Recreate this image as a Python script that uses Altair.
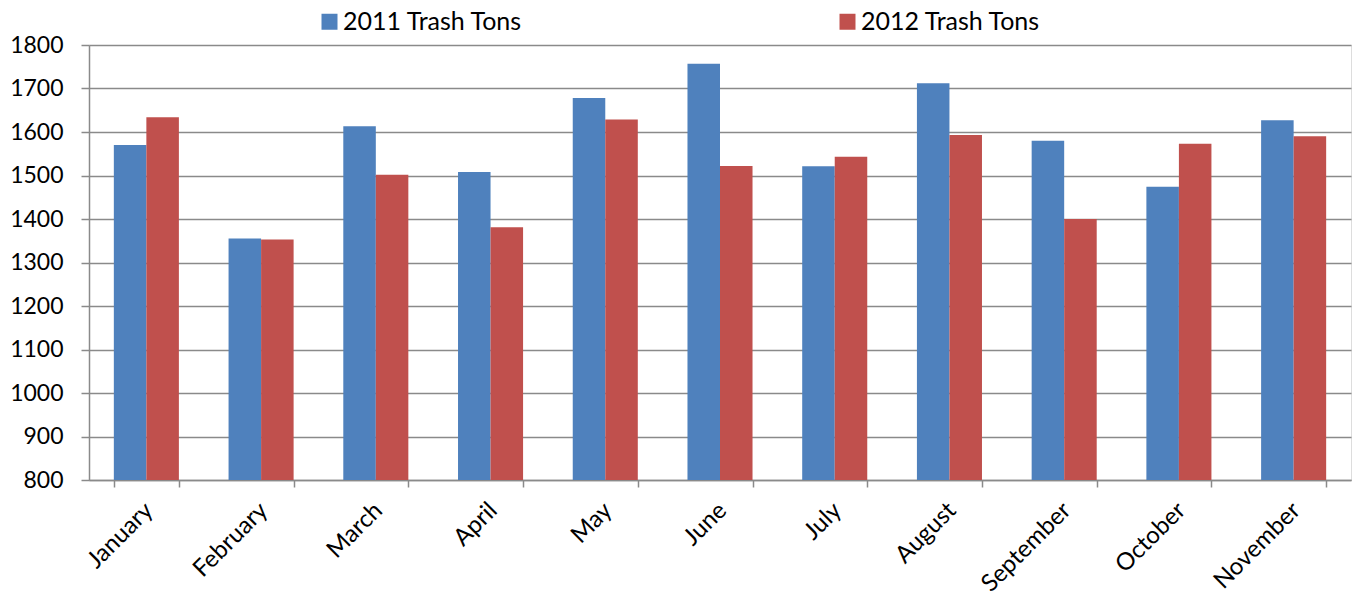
import altair as alt
import pandas as pd

# Monthly trash tonnage, two years side by side
months = ["January", "February", "March", "April", "May", "June",
          "July", "August", "September", "October", "November"]
tons_2011 = [1570, 1355, 1613, 1508, 1678, 1757, 1521, 1712, 1580, 1474, 1627]
tons_2012 = [1634, 1353, 1502, 1381, 1629, 1522, 1543, 1593, 1400, 1573, 1590]
series = ["2011 Trash Tons", "2012 Trash Tons"]
colors = ["#4F81BD", "#C0504D"]
y_ticks = [800, 900, 1000, 1100, 1200, 1300, 1400, 1500, 1600, 1700, 1800]

rows = []
for m, a, b in zip(months, tons_2011, tons_2012):
    rows.append({"Month": m, "Series": series[0], "Tons": a})
    rows.append({"Month": m, "Series": series[1], "Tons": b})
df = pd.DataFrame(rows)

FONT = "Lato"
GRID = "#8a8a8a"

chart = (
    alt.Chart(df)
    .mark_bar(clip=True)
    .encode(
        x=alt.X(
            "Month:N",
            sort=months,
            scale=alt.Scale(paddingInner=0.433, paddingOuter=0.2165),
            axis=alt.Axis(
                title="",
                labelAngle=-45,
                labelAlign="right",
                labelBaseline="top",
                labelPadding=11,
                labelOffset=-6,
                labelFont=FONT,
                labelFontSize=24,
                labelColor="#000000",
                labelLimit=0,
                tickBand="extent",
                tickSize=7,
                tickColor=GRID,
                tickWidth=1.5,
                domainColor=GRID,
                domainWidth=1.5,
                grid=False,
            ),
        ),
        xOffset=alt.XOffset("Series:N", sort=series,
                            scale=alt.Scale(paddingInner=0, paddingOuter=0)),
        y=alt.Y(
            "Tons:Q",
            scale=alt.Scale(domain=[800, 1800], zero=False, nice=False),
            axis=alt.Axis(
                title="",
                values=y_ticks,
                format="d",
                labelFont=FONT,
                labelFontSize=23,
                labelColor="#000000",
                labelPadding=18,
                tickSize=8,
                tickColor=GRID,
                tickWidth=1.5,
                domainColor=GRID,
                domainWidth=1.5,
                grid=True,
                gridColor=GRID,
                gridWidth=1.5,
            ),
        ),
        color=alt.Color(
            "Series:N",
            sort=series,
            scale=alt.Scale(domain=series, range=colors),
            legend=alt.Legend(
                title="",
                orient="none",
                legendX=228,
                legendY=-36,
                direction="horizontal",
                columnPadding=312,
                symbolType="square",
                symbolSize=256,
                symbolStrokeWidth=0,
                labelOffset=1,
                labelLimit=0,
                labelFont=FONT,
                labelFontSize=25,
                labelColor="#000000",
            ),
        ),
    )
    .properties(
        width=1262,
        height=435,
        autosize=alt.AutoSizeParams(type="none"),
        padding={"left": 89, "top": 45, "right": 2, "bottom": 119},
    )
    .configure_view(stroke=None)
    .configure(background="#ffffff")
)

chart.save("out.html", embed_options={"renderer": "svg", "actions": False})
